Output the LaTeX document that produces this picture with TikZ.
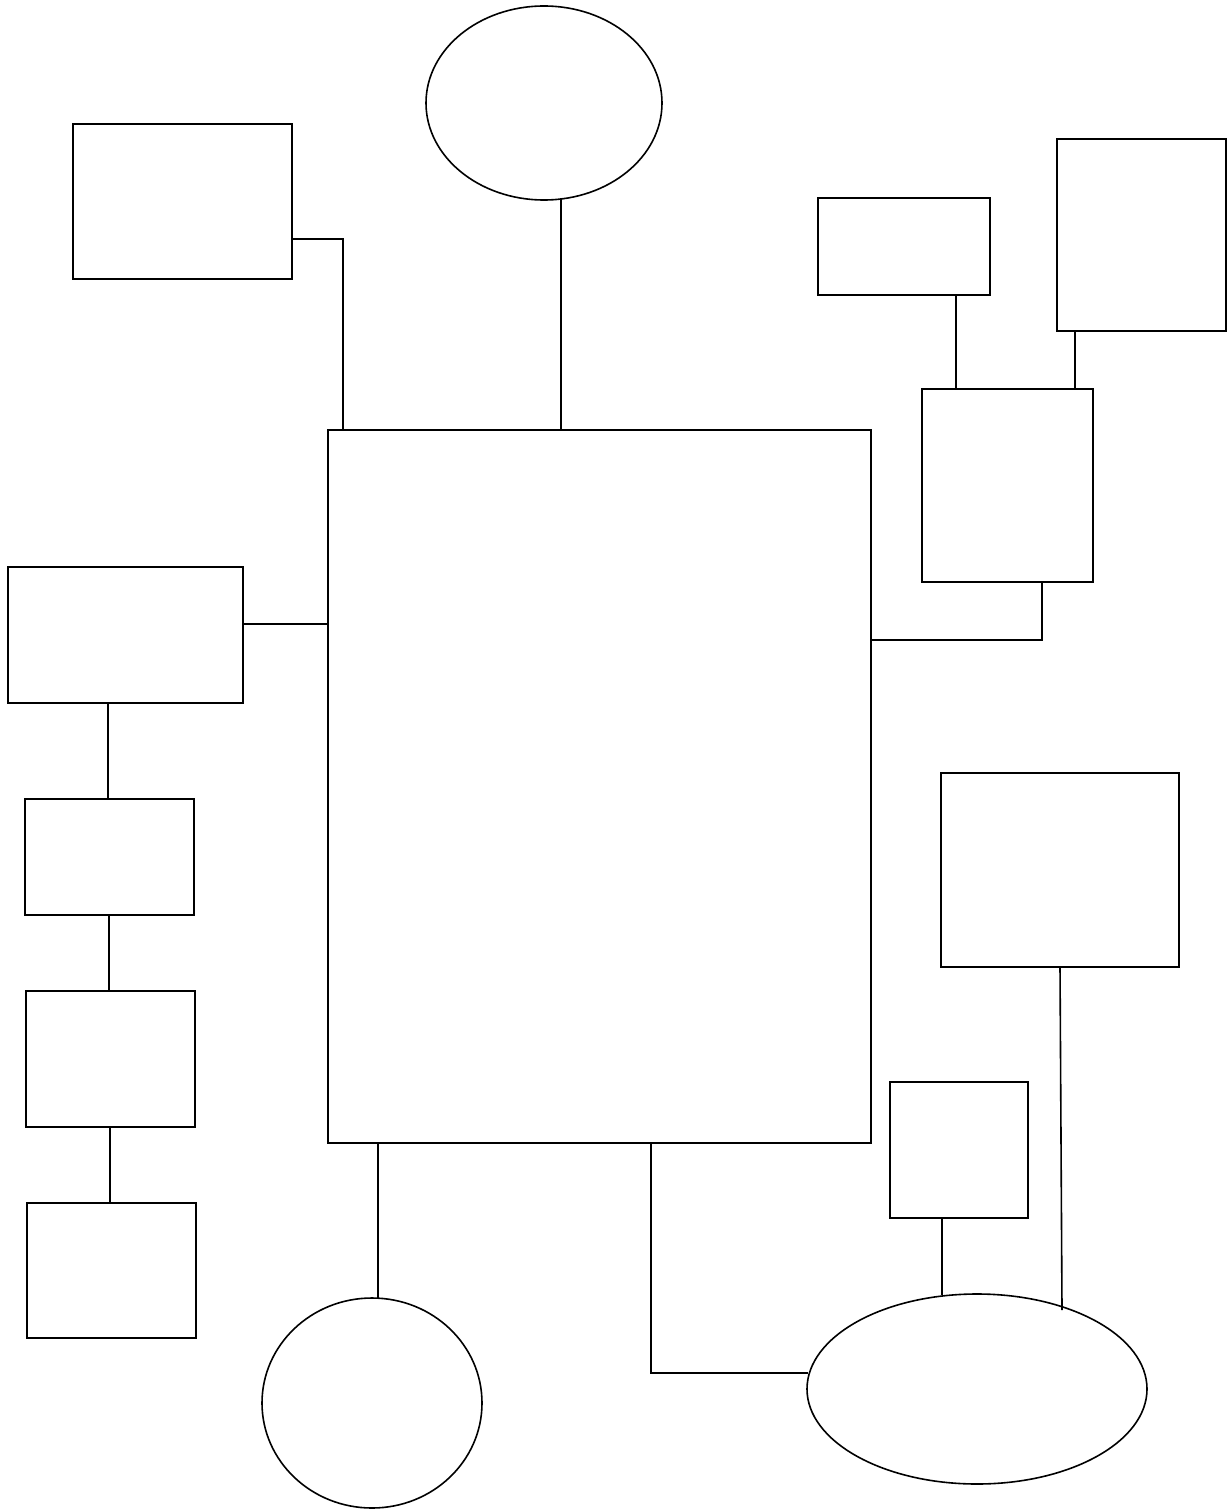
\documentclass[tikz,border=0pt]{standalone}
\usetikzlibrary{shapes.geometric}
\begin{document}
\begin{tikzpicture}[x=1pt,y=-1pt,line width=1.6pt,
  box/.style={draw,rectangle,inner sep=0pt,outer sep=0pt},
  oval/.style={draw,ellipse,inner sep=0pt,outer sep=0pt}]
\useasboundingbox[fill=white] (0,0) rectangle (1231,1511);
% boxes
\node[box,minimum width=219pt,minimum height=155pt] (tl) at (182.5,201.5) {};
\node[box,minimum width=543pt,minimum height=713pt] (main) at (599.5,786.5) {};
\node[box,minimum width=172pt,minimum height=97pt] (rs) at (904,246.5) {};
\node[box,minimum width=169pt,minimum height=192pt] (rf) at (1141.5,235) {};
\node[box,minimum width=171pt,minimum height=193pt] (rm) at (1007.5,485.5) {};
\node[box,minimum width=235pt,minimum height=136pt] (l1) at (125.5,635) {};
\node[box,minimum width=169pt,minimum height=116pt] (l2) at (109.5,857) {};
\node[box,minimum width=169pt,minimum height=136pt] (l3) at (110.5,1059) {};
\node[box,minimum width=169pt,minimum height=135pt] (l4) at (111.5,1270.5) {};
\node[box,minimum width=238pt,minimum height=194pt] (rl) at (1060,870) {};
\node[box,minimum width=138pt,minimum height=136pt] (rb) at (959,1150) {};
% ovals
\node[oval,minimum width=236pt,minimum height=194pt] (top) at (544,103) {};
\node[oval,minimum width=220pt,minimum height=210pt] (bc) at (372,1403) {};
\node[oval,minimum width=340pt,minimum height=190pt] (be) at (977,1389) {};
% connectors
\coordinate (c1) at (343,239);
\draw (tl.east |- c1) -- (c1) -- (c1 |- main.north);
\coordinate (c0) at (561,198);
\draw (c0) -- (c0 |- main.north);
\coordinate (c4) at (956,0);
\draw (c4 |- rs.south) -- (c4 |- rm.north);
\coordinate (c5) at (1075,0);
\draw (c5 |- rf.south) -- (c5 |- rm.north);
\coordinate (c2) at (1042,640);
\draw (c2 |- rm.south) -- (c2) -- (c2 -| main.east);
\coordinate (c6) at (0,624);
\draw (l1.east |- c6) -- (main.west |- c6);
\draw (108,0 |- l1.south) -- (108,0 |- l2.north);
\draw (109,0 |- l2.south) -- (109,0 |- l3.north);
\draw (110,0 |- l3.south) -- (110,0 |- l4.north);
\coordinate (c7) at (378,0);
\draw (c7 |- main.south) -- (c7 |- bc.north);
\coordinate (c3) at (651,1373);
\draw (c3 |- main.south) -- (c3) -- (808,1373);
\coordinate (c8) at (942,0);
\draw (c8 |- rb.south) -- (942,1295);
\coordinate (c9) at (1060,0);
\draw (c9 |- rl.south) -- (1062,1310);
\end{tikzpicture}
\end{document}
